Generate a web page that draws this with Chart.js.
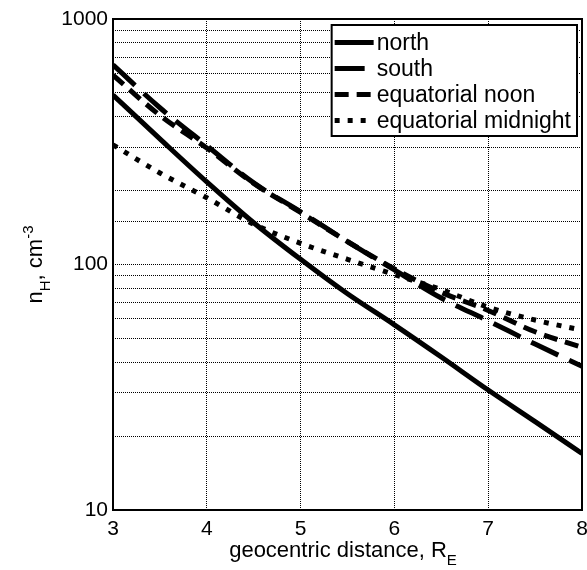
<!DOCTYPE html>
<html lang="en">
<head>
<meta charset="UTF-8">
<title>hydrogen density</title>
<script src="https://cdn.jsdelivr.net/npm/chart.js"></script>
<style>
  body { margin: 0; background: #fff; }
  .wrap { width: 587px; height: 570px; position: relative; }
</style>
</head>
<body>
<div class="wrap"><canvas id="nh"></canvas></div>
<script>
// values (R_E -> cm^-3)
var distance = [3, 3.5, 4, 4.5, 5, 5.5, 6, 6.5, 7, 7.5, 8];
var north    = [490, 325, 217, 148, 105, 76, 56.8, 42, 30.8, 22.9, 17];
var south    = [650, 435, 305, 215, 164, 124, 95, 73, 59, 47.4, 38.5];
var noon     = [590, 405, 298, 214, 163, 124, 96, 77, 65, 53.2, 46];
var midnight = [307, 236, 187, 146, 122, 105, 91, 79, 67, 59.4, 54];
var names = ['north', 'south', 'equatorial noon', 'equatorial midnight'];
var xTicks = [3, 4, 5, 6, 7, 8];
var yLabels = [10, 100, 1000];

var FONT = 'Arial, "Liberation Sans", sans-serif';

function pts(vals) {
  return distance.map(function (d, i) { return { x: d, y: vals[i] }; });
}

function line(label, vals, dash) {
  return {
    label: label,
    data: pts(vals),
    borderColor: '#000',
    borderWidth: 5,
    borderDash: dash,
    borderCapStyle: 'butt',
    pointRadius: 0,
    fill: false,
    cubicInterpolationMode: 'monotone'
  };
}

// draws text pieces with sub/superscripts, centred on x
function richText(ctx, parts, x, y) {
  var total = 0;
  parts.forEach(function (p) {
    ctx.font = (p.sub || p.sup ? 15 : 22) + 'px ' + FONT;
    p.w = ctx.measureText(p.t).width;
    total += p.w;
  });
  var cx = x - total / 2;
  parts.forEach(function (p) {
    ctx.font = (p.sub || p.sup ? 15 : 22) + 'px ' + FONT;
    var dy = p.sub ? 8 : (p.sup ? -9 : 0);
    ctx.fillText(p.t, cx, y + dy);
    cx += p.w;
  });
}

var decorations = {
  id: 'decorations',
  afterDraw: function (chart) {
    var ctx = chart.ctx, a = chart.chartArea;
    ctx.save();
    // box round the plot
    ctx.strokeStyle = '#000';
    ctx.lineWidth = 2;
    ctx.setLineDash([]);
    ctx.strokeRect(a.left, a.top, a.right - a.left, a.bottom - a.top);

    // axis titles
    ctx.fillStyle = '#000';
    ctx.textAlign = 'left';
    ctx.textBaseline = 'alphabetic';
    richText(ctx, [{ t: 'geocentric distance, R' }, { t: 'E', sub: true }], 343, 557);
    ctx.save();
    ctx.translate(42, (a.top + a.bottom) / 2);
    ctx.rotate(-Math.PI / 2);
    richText(ctx, [{ t: 'n' }, { t: 'H', sub: true }, { t: ', cm' }, { t: '-3', sup: true }], 0, 0);
    ctx.restore();

    // legend box inside the plot, top right
    ctx.font = '23px ' + FONT;
    var textW = 0;
    names.forEach(function (n) { textW = Math.max(textW, ctx.measureText(n).width); });
    var sample = 39, rowH = 26;
    var w = 3 + sample + 4 + textW + 5, h = rowH * names.length + 7;
    var x0 = a.right - 5 - w, y0 = a.top + 6;
    ctx.fillStyle = '#fff';
    ctx.fillRect(x0, y0, w, h);
    ctx.lineWidth = 2;
    ctx.strokeRect(x0, y0, w, h);
    chart.data.datasets.forEach(function (ds, i) {
      var cy = y0 + 17.5 + i * rowH;
      ctx.beginPath();
      ctx.lineWidth = 5;
      ctx.setLineDash(ds.borderDash || []);
      ctx.moveTo(x0 + 3, cy);
      ctx.lineTo(x0 + 3 + sample, cy);
      ctx.stroke();
      ctx.setLineDash([]);
      ctx.fillStyle = '#000';
      ctx.textBaseline = 'middle';
      ctx.fillText(ds.label, x0 + 3 + sample + 3, cy + 1);
    });
    ctx.restore();
  }
};

var chart = new Chart(document.getElementById('nh'), {
  type: 'line',
  data: {
    datasets: [
      line(names[0], north, []),
      line(names[1], south, [30, 12]),
      line(names[2], noon, [14, 8]),
      line(names[3], midnight, [5, 8])
    ]
  },
  options: {
    responsive: true,
    maintainAspectRatio: false,
    animation: false,
    layout: { padding: { top: 19, right: 5, left: 0, bottom: 0 } },
    plugins: { legend: { display: false }, tooltip: { enabled: false } },
    scales: {
      x: {
        type: 'linear',
        min: xTicks[0],
        max: xTicks[xTicks.length - 1],
        afterFit: function (s) { s.height = 60; s.paddingLeft = 0; s.paddingRight = 0; },
        afterBuildTicks: function (s) {
          s.ticks = xTicks.map(function (v) { return { value: v }; });
        },
        ticks: { color: '#000', font: { size: 21, family: FONT }, padding: 7 },
        grid: { color: '#000', lineWidth: 1, drawTicks: false },
        border: { display: false, dash: [1, 1] }
      },
      y: {
        type: 'logarithmic',
        min: yLabels[0],
        max: yLabels[yLabels.length - 1],
        afterFit: function (s) { s.width = 113; },
        ticks: {
          color: '#000',
          font: { size: 21, family: FONT },
          padding: 5,
          autoSkip: false,
          callback: function (v) {
            return yLabels.indexOf(v) >= 0 ? String(v) : '';
          }
        },
        grid: { color: '#000', lineWidth: 1, drawTicks: false },
        border: { display: false, dash: [1, 1] }
      }
    }
  },
  plugins: [decorations]
});
</script>
</body>
</html>
